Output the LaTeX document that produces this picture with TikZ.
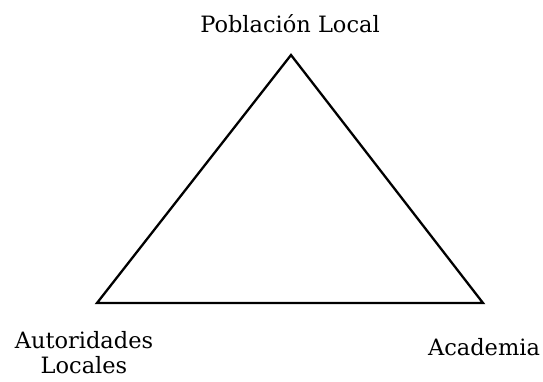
\documentclass[tikz,border=0pt]{standalone}
\usepackage{fontspec}
\setmainfont{DejaVu Serif}
\begin{document}
\begin{tikzpicture}[x=1pt,y=-1pt,
  lbl/.style={inner sep=0pt, font=\fontsize{22.5}{25}\selectfont, align=center},
  edge/.style={line width=2.3pt, line join=miter}]
\useasboundingbox (0,0) rectangle (543,381);
\coordinate (top) at (291,55);
\coordinate (bl) at (97,303);
\coordinate (br) at (483,303);
\draw[edge] (top) -- (bl) -- (br) -- cycle;
\node[lbl, anchor=base] (pl) at (290,32) {Población Local};
\node[lbl, anchor=center] (al) at (84,353) {Autoridades\\Locales};
\node[lbl, anchor=base] (ac) at (484,355) {Academia};
\end{tikzpicture}
\end{document}
